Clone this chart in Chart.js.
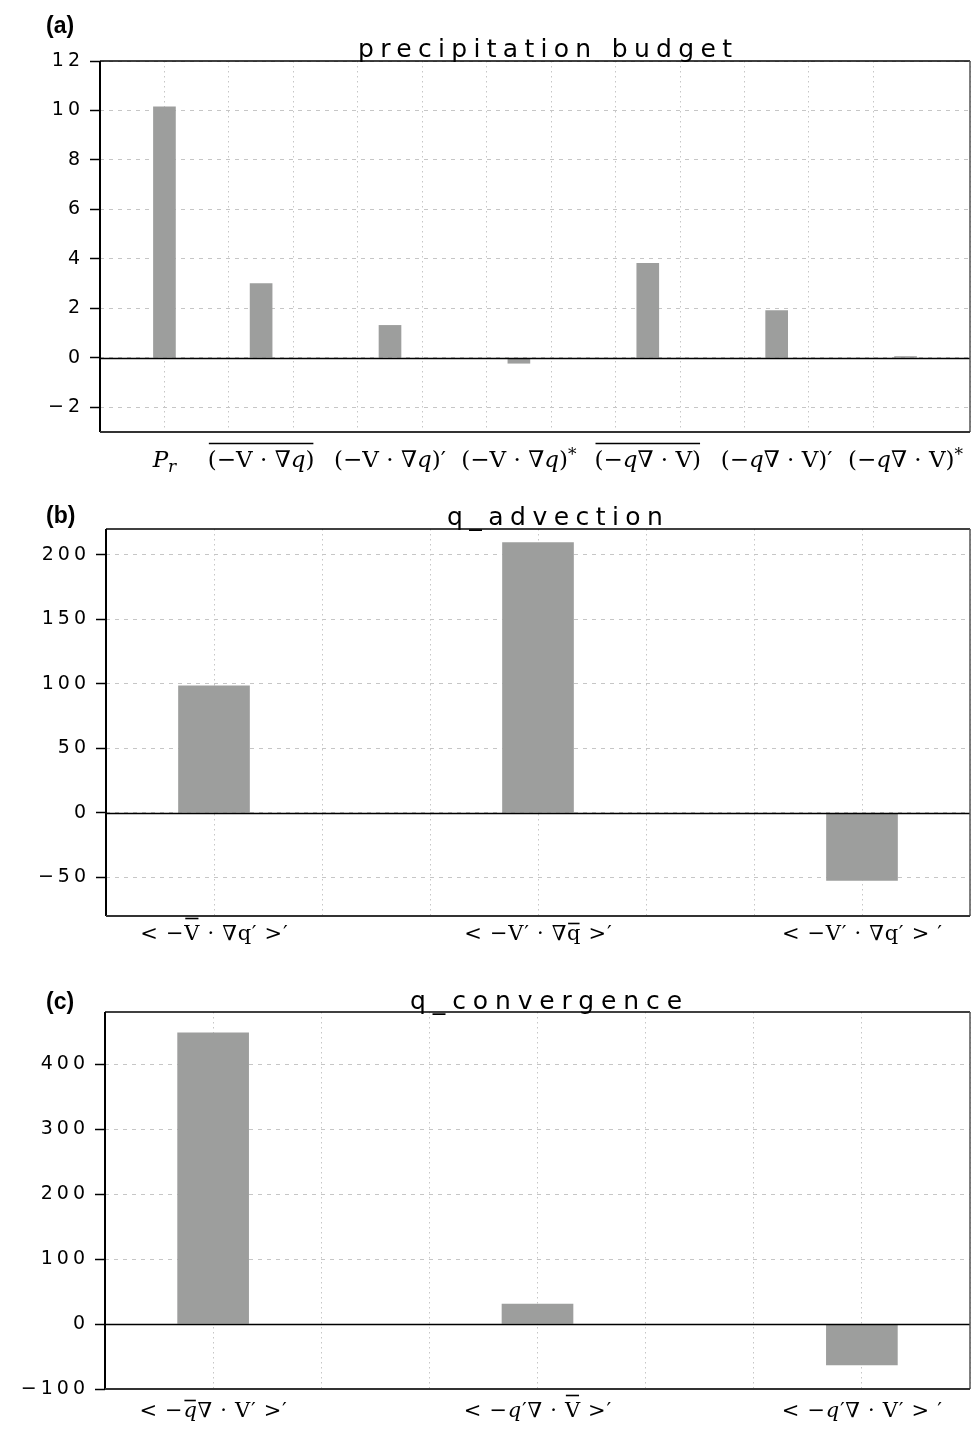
<!DOCTYPE html>
<html>
<head>
<meta charset="utf-8">
<script src="https://cdn.jsdelivr.net/npm/chart.js@4.4.1/dist/chart.umd.min.js"></script>
<style>
  html, body { margin: 0; padding: 0; background: #fff; }
  #fig { position: relative; width: 971px; height: 1429px; }
  #fig canvas { position: absolute; left: 0; }
</style>
</head>
<body>
<div id="fig">
  <canvas id="chartA" width="971" height="490" style="top:0px"></canvas>
  <canvas id="chartB" width="971" height="480" style="top:490px"></canvas>
  <canvas id="chartC" width="971" height="459" style="top:970px"></canvas>
</div>
<script>
// Label markup: {..} italic, [..] overline, _x subscript, ^x superscript

// (a) precipitation budget
const catsA = ['{P_r}', '[(−V · ∇{q})]', '(−V · ∇{q})′', '(−V · ∇{q})^*', '[(−{q}∇ · V)]', '(−{q}∇ · V)′', '(−{q}∇ · V)^*'];
const posA = [1, 2.5, 4.5, 6.5, 8.5, 10.5, 12.5];
const valsA = [10.15, 3.0, 1.31, -0.22, 3.82, 1.91, 0.05];
const yTicksA = [-2, 0, 2, 4, 6, 8, 10, 12];

// (b) q advection
const catsB = ['< −[V] · ∇q′ >′', '< −V′ · ∇[q] >′', '< −V′ · ∇q′ > ′'];
const posB = [1, 4, 7];
const valsB = [98.5, 209.5, -52.5];
const yTicksB = [-50, 0, 50, 100, 150, 200];

// (c) q convergence
const catsC = ['< −[{q}]∇ · V′ >′', '< −{q}′∇ · [V] >′', '< −{q}′∇ · V′ > ′'];
const posC = [1, 4, 7];
const valsC = [448, 30.5, -63];
const yTicksC = [-100, 0, 100, 200, 300, 400];

const BAR = '#9d9e9d';
const GRID = '#c6c6c6';
const SERIF = '"DejaVu Serif", "DejaVu Sans", serif';

function minusFmt(v) { return v < 0 ? '−' + Math.abs(v) : String(v); }

// draw a small math-ish label centred on cx
function drawRich(ctx, src, cx, baseline, size, ls) {
  const glyphs = [];
  const bars = [];
  let x = 0, italic = false, barStart = null, barLow = true;
  for (let i = 0; i < src.length; i++) {
    let ch = src[i];
    if (ch === '{') { italic = true; continue; }
    if (ch === '}') { italic = false; continue; }
    if (ch === '[') { barStart = x; barLow = true; continue; }
    if (ch === ']') { bars.push({ x0: barStart, x1: x - ls, low: barLow }); barStart = null; continue; }
    let s = size, dy = 0;
    if (ch === '_' || ch === '^') {
      dy = ch === '_' ? 0.22 * size : -0.3 * size;
      s = Math.round(size * 0.72);
      ch = src[++i];
    }
    const font = (italic ? 'italic ' : '') + s + 'px ' + SERIF;
    ctx.font = font;
    const w = ctx.measureText(ch).width;
    if (barStart !== null && !/[a-z]/.test(ch)) barLow = false;
    glyphs.push({ ch, font, x, dy });
    x += w + ls;
  }
  x -= ls;
  const left = cx - x / 2;
  ctx.fillStyle = '#000';
  ctx.textAlign = 'left';
  ctx.textBaseline = 'alphabetic';
  glyphs.forEach(g => { ctx.font = g.font; ctx.fillText(g.ch, left + g.x, baseline + g.dy); });
  ctx.strokeStyle = '#000';
  ctx.lineWidth = 1.6;
  bars.forEach(b => {
    const yb = Math.round(baseline - (b.low ? 0.8 : 1.04) * size) + 0.5;
    ctx.beginPath();
    ctx.moveTo(left + b.x0 + 1, yb);
    ctx.lineTo(left + b.x1 - 1, yb);
    ctx.stroke();
  });
}

const panelDecor = {
  id: 'panelDecor',
  beforeDraw(chart, args, o) {
    chart.ctx.letterSpacing = o.tickSpacing + 'px';
  },
  afterDatasetsDraw(chart, args, o) {
    const { ctx, chartArea: a, scales: { x, y } } = chart;
    ctx.save();
    ctx.letterSpacing = '0px';

    // zero line
    const y0 = Math.round(y.getPixelForValue(0)) + 0.5;
    ctx.strokeStyle = '#000';
    ctx.lineWidth = 1.5;
    ctx.beginPath(); ctx.moveTo(a.left, y0); ctx.lineTo(a.right, y0); ctx.stroke();

    // frame
    ctx.lineWidth = 1.5;
    ctx.strokeStyle = '#000';
    ctx.beginPath(); ctx.moveTo(a.left, a.top); ctx.lineTo(a.right, a.top); ctx.stroke();
    ctx.strokeStyle = '#555';
    ctx.beginPath(); ctx.moveTo(a.right, a.top); ctx.lineTo(a.right, a.bottom); ctx.stroke();
    ctx.lineWidth = 2;
    ctx.strokeStyle = '#000';
    ctx.beginPath(); ctx.moveTo(a.left, a.top); ctx.lineTo(a.left, a.bottom); ctx.stroke();
    ctx.strokeStyle = '#333';
    ctx.beginPath(); ctx.moveTo(a.left, a.bottom); ctx.lineTo(a.right, a.bottom); ctx.stroke();

    // category labels
    o.cats.forEach((c, i) => drawRich(ctx, c, x.getPixelForValue(o.pos[i]), a.bottom + o.labelGap, o.labelSize, o.labelSpacing));

    // title, spread to the width it has in the figure
    ctx.fillStyle = '#000';
    ctx.font = '25px "DejaVu Sans"';
    ctx.textAlign = 'left';
    ctx.textBaseline = 'alphabetic';
    const tw = ctx.measureText(o.title).width;
    ctx.letterSpacing = ((o.titleWidth - tw) / (o.title.length - 1)).toFixed(2) + 'px';
    ctx.fillText(o.title, o.titleX - o.titleWidth / 2, a.top - o.titleGap);

    // panel letter
    ctx.letterSpacing = '0px';
    ctx.font = 'bold 23px "Liberation Sans", Arial, sans-serif';
    ctx.fillText(o.letter, 46, o.letterY);
    ctx.restore();
  }
};

function makePanel(id, p) {
  return new Chart(document.getElementById(id), {
    type: 'bar',
    data: {
      datasets: [{
        data: p.pos.map((x, i) => ({ x: x, y: p.vals[i] })),
        backgroundColor: BAR,
        borderWidth: 0,
        barThickness: p.barWidth
      }]
    },
    options: {
      responsive: false,
      animation: false,
      devicePixelRatio: 1,
      layout: { padding: { top: p.top, right: 1, left: 0, bottom: 0 } },
      plugins: {
        legend: { display: false },
        tooltip: { enabled: false },
        panelDecor: {
          cats: p.cats, pos: p.pos, title: p.title, letter: p.letter,
          labelGap: p.labelGap, labelSize: p.labelSize, labelSpacing: p.labelSpacing,
          titleGap: p.titleGap, titleX: p.titleX, titleWidth: p.titleWidth,
          letterY: p.letterY, tickSpacing: 4
        }
      },
      scales: {
        x: {
          type: 'linear',
          min: 0,
          max: p.xMax,
          offset: false,
          ticks: { display: false, stepSize: 1 },
          grid: { color: GRID, lineWidth: 1, drawTicks: false, offset: false },
          border: { display: false, dash: [1.5, 3.5] },
          afterFit(s) { s.height = p.xHeight; }
        },
        y: {
          min: p.yMin,
          max: p.yMax,
          afterBuildTicks(s) { s.ticks = p.yTicks.map(v => ({ value: v })); },
          ticks: {
            color: '#000',
            padding: 6,
            font: { family: "'DejaVu Sans'", size: 19, weight: 'normal' },
            callback: minusFmt
          },
          grid: { color: GRID, lineWidth: 1, tickColor: '#000', tickLength: 10, tickWidth: 1.5 },
          border: { display: false, dash: [4, 5] },
          afterFit(s) { s.width = p.yWidth; }
        }
      }
    },
    plugins: [panelDecor]
  });
}

makePanel('chartA', {
  cats: catsA, pos: posA, vals: valsA, yTicks: yTicksA,
  xMax: 13.5, yMin: -3, yMax: 12, barWidth: 22,
  top: 61, yWidth: 100, xHeight: 58,
  title: 'precipitation budget', titleX: 545, titleWidth: 374, letter: '(a)', letterY: 33,
  labelGap: 35, labelSize: 23, labelSpacing: 0, titleGap: 4
});

makePanel('chartB', {
  cats: catsB, pos: posB, vals: valsB, yTicks: yTicksB,
  xMax: 8, yMin: -80, yMax: 220, barWidth: 71,
  top: 39, yWidth: 106, xHeight: 54,
  title: 'q_advection', titleX: 555, titleWidth: 216, letter: '(b)', letterY: 33,
  labelGap: 24, labelSize: 21, labelSpacing: 0.7, titleGap: 4
});

makePanel('chartC', {
  cats: catsC, pos: posC, vals: valsC, yTicks: yTicksC,
  xMax: 8, yMin: -100, yMax: 480, barWidth: 71,
  top: 42, yWidth: 105, xHeight: 40,
  title: 'q_convergence', titleX: 546, titleWidth: 272, letter: '(c)', letterY: 39,
  labelGap: 28, labelSize: 21, labelSpacing: 0.7, titleGap: 3
});
</script>
</body>
</html>
